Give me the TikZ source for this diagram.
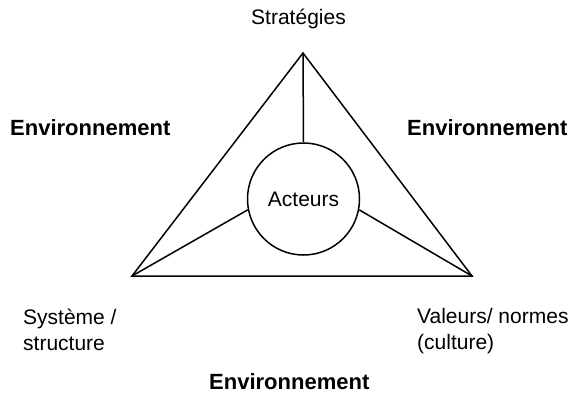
\documentclass[tikz,border=0pt]{standalone}
\usepackage{fontspec}
\setmainfont{Liberation Sans}
\begin{document}
\begin{tikzpicture}[x=1pt,y=-1pt,
  edge/.style={line width=1.5pt,line join=miter},
  label/.style={inner sep=0pt,font=\fontsize{21}{26}\selectfont},
  envlabel/.style={label,font=\fontsize{22}{26}\selectfont\bfseries},
  hub/.style={draw,circle,line width=1.5pt,minimum size=112pt,inner sep=0pt,font=\fontsize{21}{26}\selectfont}]
  \useasboundingbox (0,0) rectangle (580,396);

  % triangle corners
  \coordinate (top) at (303,53);
  \coordinate (left) at (132,276);
  \coordinate (right) at (472,276);

  % central circle
  \node[hub] (act) at (303.5,199) {Acteurs};

  % triangle and spokes
  \draw[edge] (top) -- (left) -- (right) -- cycle;
  \draw[edge] (top) -- (act.north);
  \draw[edge] (left) -- (act.191.6);
  \draw[edge] (right) -- (act.-11.2);

  % corner labels (base anchor sits on the last line)
  \node[label,anchor=base] (strat) at (298.5,25) {Stratégies};
  \node[label,anchor=base west,align=left] (sys) at (23,350) {Système /\\structure};
  \node[label,anchor=base west,align=left] (val) at (417,349) {Valeurs/ normes\\(culture)};

  % surrounding environment
  \node[envlabel,anchor=base west] (envl) at (10,135) {Environnement};
  \node[envlabel,anchor=base west] (envr) at (407,135) {Environnement};
  \node[envlabel,anchor=base west] (envb) at (209,389) {Environnement};
\end{tikzpicture}
\end{document}
